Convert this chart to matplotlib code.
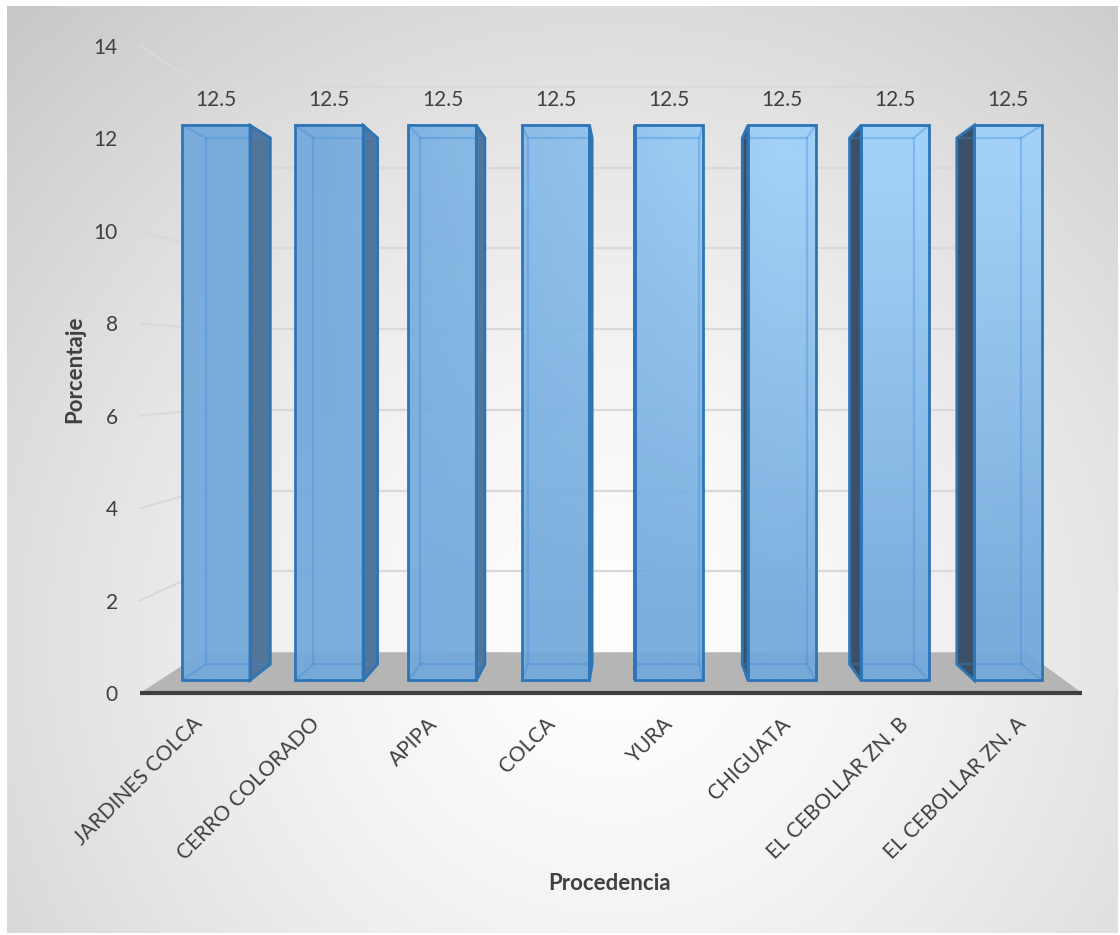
import numpy as np
import matplotlib.pyplot as plt
from matplotlib.patches import Polygon
from matplotlib.colors import to_rgb

plt.rcParams['font.family'] = ['Lato', 'DejaVu Sans']

# --- datos ---
categorias = ["JARDINES COLCA", "CERRO COLORADO", "APIPA", "COLCA", "YURA",
              "CHIGUATA", "EL CEBOLLAR ZN. B", "EL CEBOLLAR ZN. A"]
porcentaje = [12.5, 12.5, 12.5, 12.5, 12.5, 12.5, 12.5, 12.5]
yticks = [0, 2, 4, 6, 8, 10, 12, 14]

# --- perspectiva (punto de fuga en coordenadas de datos) ---
VX, VY = 3.746, 7.0
S_FRONT, S_BACK, S_WALL = 0.961, 0.911, 0.874
HALF = 0.3
TXT = '#404040'


def proj(x, y, s):
    return VX + (x - VX) * s, VY + (y - VY) * s


W, H = 1120, 935
fig = plt.figure(figsize=(W / 100, H / 100), dpi=100)
fig.patch.set_facecolor('white')

# fondo con degradado radial
bg = fig.add_axes([0, 0, 1, 1], zorder=-1)
bg.set_xlim(0, W)
bg.set_ylim(H, 0)
bg.axis('off')
yy, xx = np.mgrid[6:933, 7:1118]
d = np.hypot(xx - 610, yy - 640) / 880
g = np.clip(1 - 0.22 * d ** 1.4, 0, 1)
bg.imshow(np.dstack([g, g, g]), extent=(7, 1118, 933, 6), aspect='auto')

ax = fig.add_axes([140 / W, (H - 693) / H, 942 / W, 647 / H])
ax.patch.set_alpha(0)
for sp in ax.spines.values():
    sp.set_visible(False)

# piso
floor = [proj(-0.5, 0, 1), proj(7.5, 0, 1), proj(7.5, 0, S_WALL), proj(-0.5, 0, S_WALL)]
ax.add_patch(Polygon(floor, closed=True, facecolor='#b5b5b5', edgecolor='none', zorder=1))
ax.plot([-0.5, 7.5], [0, 0], color='#3f3f3f', lw=3, zorder=2, clip_on=False,
        solid_capstyle='butt')

# lineas de division (pared del fondo y pared izquierda)
for v in yticks[1:]:
    bx0, by = proj(-0.5, v, S_WALL)
    bx1, _ = proj(7.5, v, S_WALL)
    ax.plot([bx0, bx1], [by, by], color='#d9d9d9', lw=1.6, zorder=1.5, clip_on=False)
    ax.plot([-0.5, bx0], [v, by], color='#d9d9d9', lw=1.6, zorder=1.5, clip_on=False)

cA = np.array(to_rgb('#71a8db'))
cB = np.array(to_rgb('#9dd0fa'))

for i, v in enumerate(porcentaje):
    x0, x1 = i - HALF, i + HALF
    fx0, fy0 = proj(x0, 0, S_FRONT)
    fx1, fy1 = proj(x1, v, S_FRONT)
    bx0, by0 = proj(x0, 0, S_BACK)
    bx1, by1 = proj(x1, v, S_BACK)

    # cara lateral visible
    if i < VX:
        side = [(fx1, fy0), (fx1, fy1), (bx1, by1), (bx1, by0)]
        side_c = '#52759a'
        far_x_f, far_x_b = fx0, bx0
    else:
        side = [(fx0, fy0), (fx0, fy1), (bx0, by1), (bx0, by0)]
        side_c = '#3b5066'
        far_x_f, far_x_b = fx1, bx1
    ax.add_patch(Polygon(side, closed=True, facecolor=side_c, edgecolor='none', zorder=3))

    # cara frontal con degradado
    xs = np.linspace(fx0, fx1, 20)
    ys = np.linspace(fy0, fy1, 60)
    px = 140 + (xs + 0.5) * 117.75
    tx = np.clip((px - 320) / 460, 0, 1)
    ty = np.clip((ys - 1.5) / 10, 0, 1)
    t = ty[:, None] * tx[None, :]
    img = cA[None, None, :] + (cB - cA)[None, None, :] * t[..., None]
    ax.imshow(img, extent=(fx0, fx1, fy0, fy1), origin='lower', aspect='auto',
              interpolation='bilinear', alpha=0.92, zorder=4)

    # aristas ocultas vistas a traves
    hid = dict(color='#3d8ad8', alpha=0.35, lw=1.6, zorder=5)
    ax.plot([bx0, bx1, bx1, bx0, bx0], [by0, by0, by1, by1, by0], **hid)
    ax.plot([far_x_f, far_x_b], [fy1, by1], **hid)
    ax.plot([far_x_f, far_x_b], [fy0, by0], **hid)

    # contornos
    ax.add_patch(Polygon([(fx0, fy0), (fx1, fy0), (fx1, fy1), (fx0, fy1)], closed=True,
                         facecolor='none', edgecolor='#2e75b6', lw=2, zorder=6))
    ax.add_patch(Polygon(side, closed=True, facecolor='none', edgecolor='#2e75b6',
                         lw=2, zorder=6))

    cx, cy = proj(i, v, S_FRONT)
    ax.annotate(f"{v:g}", xy=(cx, cy), xytext=(0, 18), textcoords='offset points',
                ha='center', va='center', fontsize=15, color=TXT, zorder=7)

ax.set_xlim(-0.5, 7.5)
ax.set_ylim(0, 14)
ax.set_yticks(yticks)
ax.set_xticks(range(len(categorias)))
ax.set_xticklabels(categorias, rotation=45, ha='right', va='center', rotation_mode='anchor')
ax.tick_params(axis='y', length=0, pad=16, labelsize=15, labelcolor=TXT)
ax.tick_params(axis='x', length=0, pad=20, labelsize=15, labelcolor=TXT)

ax.set_ylabel('Porcentaje', fontsize=16, fontweight='bold', color=TXT)
ax.yaxis.set_label_coords(-0.058, 0.5)
ax.set_xlabel('Procedencia', fontsize=16, fontweight='bold', color=TXT)
ax.xaxis.set_label_coords(0.498, -0.278)

fig.savefig('out.png', dpi=100)
